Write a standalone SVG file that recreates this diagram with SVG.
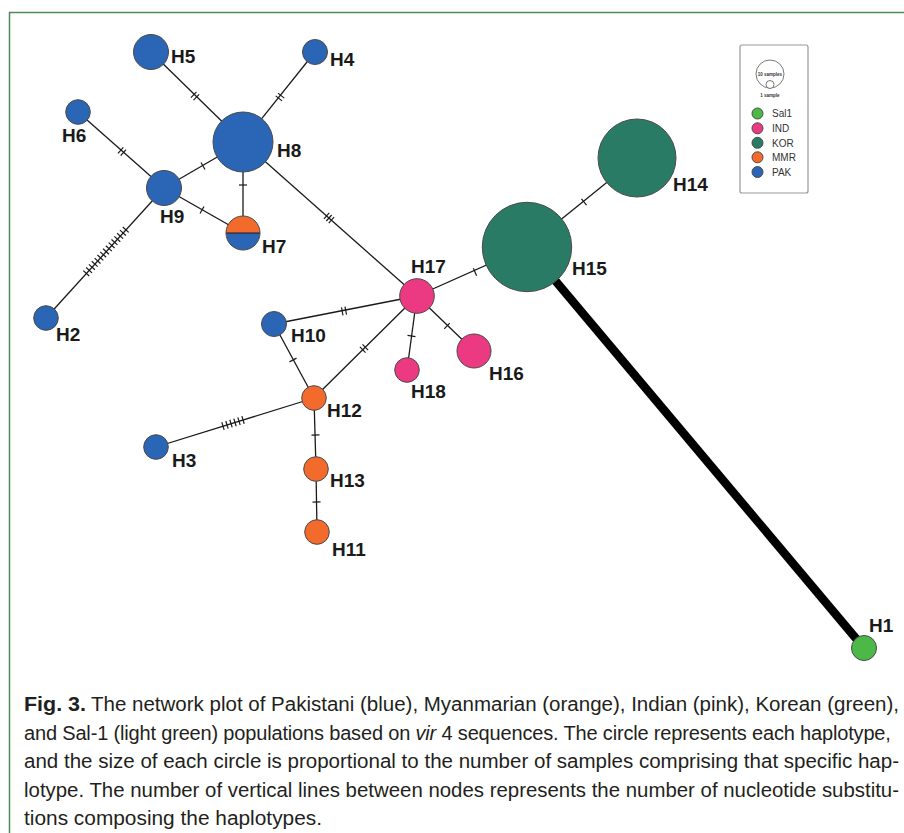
<svg xmlns="http://www.w3.org/2000/svg" width="904" height="833" viewBox="0 0 904 833">
<style>
.e{stroke:#1a1a1a;stroke-width:1.3;fill:none}
.t{stroke:#1a1a1a;stroke-width:1.2}
.n{stroke:#4a4a4a;stroke-width:1}
.pak{fill:#2b65b5}.mmr{fill:#f26a2c}.ind{fill:#ec3a82}.kor{fill:#2a7b66}.sal{fill:#4cb848}
.lb{font-family:"Liberation Sans",Arial,sans-serif;font-weight:bold;font-size:19px;fill:#1a1a1a}
.lg{font-family:"Liberation Sans",Arial,sans-serif;font-size:10px;fill:#333}
.cap{font-family:"Liberation Sans",Arial,sans-serif;font-size:20px;fill:#231f20}
</style>
<defs>
<line id="tk" class="t" x1="0" y1="-4" x2="0" y2="4"/>
</defs>
<rect width="904" height="833" fill="#fff"/>
<path d="M9.5 833 V12.5 H904" fill="none" stroke="#4f8a5a" stroke-width="1.5"/>

<g id="connectors">
<line class="e" x1="151" y1="52" x2="243" y2="142"/>
<line class="e" x1="315" y1="52" x2="243" y2="142"/>
<line class="e" x1="78" y1="112" x2="164" y2="188"/>
<line class="e" x1="164" y1="188" x2="243" y2="142"/>
<line class="e" x1="243" y1="142" x2="243" y2="233"/>
<line class="e" x1="164" y1="188" x2="243" y2="233"/>
<line class="e" x1="243" y1="142" x2="417" y2="296"/>
<line class="e" x1="164" y1="188" x2="46" y2="318"/>
<line class="e" x1="417" y1="296" x2="527" y2="247"/>
<line class="e" x1="527" y1="247" x2="637" y2="158"/>
<line class="e" x1="274" y1="324" x2="417" y2="296"/>
<line class="e" x1="314" y1="398" x2="417" y2="296"/>
<line class="e" x1="417" y1="296" x2="407" y2="370"/>
<line class="e" x1="417" y1="296" x2="474" y2="351"/>
<line class="e" x1="274" y1="324" x2="314" y2="398"/>
<line class="e" x1="156" y1="447" x2="314" y2="398"/>
<line class="e" x1="314" y1="398" x2="316" y2="469"/>
<line class="e" x1="316" y1="469" x2="317" y2="532"/>
<line x1="527" y1="247" x2="864" y2="648" stroke="#000" stroke-width="8.5"/>
<g transform="translate(195 96) rotate(44.4)"><use href="#tk" x="-1.8"/><use href="#tk" x="1.8"/></g>
<g transform="translate(280 97) rotate(-51.3)"><use href="#tk" x="-1.8"/><use href="#tk" x="1.8"/></g>
<g transform="translate(122 151.5) rotate(41.5)"><use href="#tk" x="-1.8"/><use href="#tk" x="1.8"/></g>
<g transform="translate(203 166) rotate(-30.2)"><use href="#tk"/></g>
<g transform="translate(243 185) rotate(90)"><use href="#tk"/></g>
<g transform="translate(202 210) rotate(29.7)"><use href="#tk"/></g>
<g transform="translate(329 218) rotate(41.5)"><use href="#tk" x="-3.2"/><use href="#tk"/><use href="#tk" x="3.2"/></g>
<g transform="translate(106 251.5) rotate(-47.8)"><use href="#tk" x="-29.4"/><use href="#tk" x="-25.2"/><use href="#tk" x="-21"/><use href="#tk" x="-16.8"/><use href="#tk" x="-12.6"/><use href="#tk" x="-8.4"/><use href="#tk" x="-4.2"/><use href="#tk"/><use href="#tk" x="4.2"/><use href="#tk" x="8.4"/><use href="#tk" x="12.6"/><use href="#tk" x="16.8"/><use href="#tk" x="21"/><use href="#tk" x="25.2"/><use href="#tk" x="29.4"/></g>
<g transform="translate(475 272) rotate(-24)"><use href="#tk"/></g>
<g transform="translate(584 202) rotate(-39)"><use href="#tk"/></g>
<g transform="translate(344 311) rotate(-11.1)"><use href="#tk" x="-1.8"/><use href="#tk" x="1.8"/></g>
<g transform="translate(364 348.5) rotate(-44.7)"><use href="#tk" x="-1.8"/><use href="#tk" x="1.8"/></g>
<g transform="translate(411.5 336) rotate(97.7)"><use href="#tk"/></g>
<g transform="translate(447 326) rotate(44)"><use href="#tk"/></g>
<g transform="translate(293 360) rotate(61.6)"><use href="#tk"/></g>
<g transform="translate(233 423) rotate(-17.2)"><use href="#tk" x="-10.5"/><use href="#tk" x="-6.3"/><use href="#tk" x="-2.1"/><use href="#tk" x="2.1"/><use href="#tk" x="6.3"/><use href="#tk" x="10.5"/></g>
<g transform="translate(315.5 435) rotate(88.4)"><use href="#tk"/></g>
<g transform="translate(316.5 502) rotate(89)"><use href="#tk"/></g>
</g>

<g id="H5"><circle class="n pak" cx="151" cy="52" r="17.5"/><text class="lb" x="171" y="63">H5</text></g>
<g id="H4"><circle class="n pak" cx="315" cy="52" r="12.5"/><text class="lb" x="330" y="66">H4</text></g>
<g id="H6"><circle class="n pak" cx="78" cy="112" r="12.3"/><text class="lb" x="62" y="142">H6</text></g>
<g id="H8"><circle class="n pak" cx="243" cy="142" r="30"/><text class="lb" x="277" y="157">H8</text></g>
<g id="H9"><circle class="n pak" cx="164" cy="188" r="17.5"/><text class="lb" x="160" y="223">H9</text></g>
<g id="H7"><path class="mmr" d="M226 233 A17 17 0 0 1 260 233 Z"/><path class="pak" d="M226 233 A17 17 0 0 0 260 233 Z"/><line x1="226" y1="233" x2="260" y2="233" stroke="#1a1a1a" stroke-width="1"/><circle class="n" cx="243" cy="233" r="17" fill="none"/><text class="lb" x="262" y="253">H7</text></g>
<g id="H2"><circle class="n pak" cx="46" cy="318" r="12.3"/><text class="lb" x="56" y="341">H2</text></g>
<g id="H10"><circle class="n pak" cx="274" cy="324" r="12.5"/><text class="lb" x="291" y="342">H10</text></g>
<g id="H12"><circle class="n mmr" cx="314" cy="398" r="12.3"/><text class="lb" x="327" y="417">H12</text></g>
<g id="H3"><circle class="n pak" cx="156" cy="447" r="12.3"/><text class="lb" x="172" y="467">H3</text></g>
<g id="H13"><circle class="n mmr" cx="316" cy="469" r="12.3"/><text class="lb" x="330" y="487">H13</text></g>
<g id="H11"><circle class="n mmr" cx="317" cy="532" r="12.3"/><text class="lb" x="332" y="556">H11</text></g>
<g id="H17"><circle class="n ind" cx="417" cy="296" r="17.3"/><text class="lb" x="411" y="273">H17</text></g>
<g id="H18"><circle class="n ind" cx="407" cy="370" r="12.3"/><text class="lb" x="411" y="398">H18</text></g>
<g id="H16"><circle class="n ind" cx="474" cy="351" r="17"/><text class="lb" x="489" y="380">H16</text></g>
<g id="H14"><circle class="n kor" cx="637" cy="158" r="39"/><text class="lb" x="673" y="191">H14</text></g>
<g id="H15"><circle class="n kor" cx="527" cy="247" r="44.7"/><text class="lb" x="572" y="275">H15</text></g>
<g id="H1"><circle class="n sal" cx="864" cy="648" r="12.5"/><text class="lb" x="869" y="632">H1</text></g>

<g id="legend">
<rect x="740" y="45" width="68" height="148" rx="2" fill="#fff" stroke="#999" stroke-width="1.2"/>
<circle cx="770" cy="74" r="14" fill="#fff" stroke="#555" stroke-width="0.8"/>
<circle cx="770" cy="84.5" r="4" fill="#fff" stroke="#555" stroke-width="0.8"/>
<text x="770" y="76" text-anchor="middle" font-family="Liberation Sans,Arial,sans-serif" font-size="4.5" font-weight="bold" fill="#333">10 samples</text>
<text x="770" y="97" text-anchor="middle" font-family="Liberation Sans,Arial,sans-serif" font-size="4.5" font-weight="bold" fill="#333">1 sample</text>
<circle class="n sal" cx="757.5" cy="113.5" r="5.5"/><text class="lg" x="772" y="117">Sal1</text>
<circle class="n ind" cx="757.5" cy="128.3" r="5.5"/><text class="lg" x="772" y="132">IND</text>
<circle class="n kor" cx="757.5" cy="142.8" r="5.5"/><text class="lg" x="772" y="146.5">KOR</text>
<circle class="n mmr" cx="757.5" cy="157.3" r="5.5"/><text class="lg" x="772" y="161">MMR</text>
<circle class="n pak" cx="757.5" cy="172" r="5.5"/><text class="lg" x="772" y="175.5">PAK</text>
</g>

<g id="caption">
<text class="cap" x="24" y="711" textLength="62" lengthAdjust="spacingAndGlyphs" font-weight="bold" fill="#3c8a4c">Fig. 3.</text>
<text class="cap" x="91" y="711" textLength="808" lengthAdjust="spacingAndGlyphs">The network plot of Pakistani (blue), Myanmarian (orange), Indian (pink), Korean (green),</text>
<text class="cap" x="24" y="740" font-size="19.6" letter-spacing="-0.17">and Sal-1 (light green) populations based on <tspan font-style="italic">vir</tspan> 4 sequences. The circle represents each haplotype,</text>
<text class="cap" x="24" y="768" textLength="875" lengthAdjust="spacingAndGlyphs">and the size of each circle is proportional to the number of samples comprising that specific hap-</text>
<text class="cap" x="24" y="797" textLength="875" lengthAdjust="spacingAndGlyphs">lotype. The number of vertical lines between nodes represents the number of nucleotide substitu-</text>
<text class="cap" x="24" y="825" textLength="298" lengthAdjust="spacingAndGlyphs">tions composing the haplotypes.</text>
</g>
</svg>
